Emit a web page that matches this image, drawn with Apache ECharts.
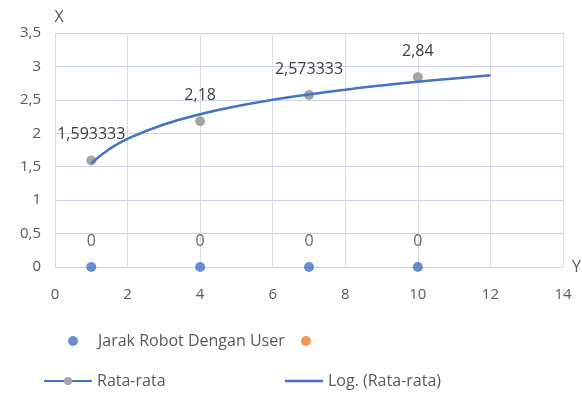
<!DOCTYPE html>
<html>
<head>
<meta charset="utf-8">
<script src="https://cdn.jsdelivr.net/npm/echarts@6/dist/echarts.min.js"></script>
<style>
html,body{margin:0;padding:0;background:#fff;}
#c{width:582px;height:394px;}
</style>
</head>
<body>
<div id="c"></div>
<script>
// Data
const xValues = [1, 4, 7, 10];
const jarakValues = [0, 0, 0, 0];
const rataValues = [1.593333, 2.18, 2.573333, 2.84];
const trendX = [1, 1.5, 2, 3, 4, 5, 6, 7, 8, 9, 10, 11, 12];
const trendValues = [1.55, 1.765, 1.918, 2.132, 2.285, 2.403, 2.50, 2.581, 2.652, 2.714, 2.77, 2.821, 2.867];
const xTicks = { min: 0, max: 14, interval: 2 };
const yTicks = { min: 0, max: 3.5, interval: 0.5 };

const fmt = v => String(v).replace('.', ',');
const FONT = 'Open Sans';
const txt = '#595959';
const lbl = '#404040';

const chart = echarts.init(document.getElementById('c'));
chart.setOption({
  animation: false,
  textStyle: { fontFamily: FONT },
  grid: { left: 55, right: 19, top: 33, bottom: 127, outerBoundsMode: 'none', containLabel: false },
  xAxis: {
    type: 'value', min: xTicks.min, max: xTicks.max, interval: xTicks.interval,
    name: 'Y', nameLocation: 'end', nameGap: 9,
    nameTextStyle: { color: txt, fontSize: 16, fontFamily: FONT },
    axisLine: { show: false },
    axisTick: { show: false },
    axisLabel: { color: txt, fontSize: 15, margin: 20, formatter: fmt },
    splitLine: { show: true, lineStyle: { color: '#d9dbe6', width: 1 } }
  },
  yAxis: {
    type: 'value', min: yTicks.min, max: yTicks.max, interval: yTicks.interval,
    name: 'X', nameLocation: 'end', nameGap: 8,
    nameTextStyle: { color: txt, fontSize: 16, fontFamily: FONT, padding: [0, 0, 0, 8] },
    axisLine: { show: false },
    axisTick: { show: false },
    axisLabel: { color: txt, fontSize: 15, margin: 14, formatter: fmt },
    splitLine: { show: true, lineStyle: { color: '#c9d3ea', width: 1 } }
  },
  legend: [
    { left: 63, top: 328, itemWidth: 40, itemHeight: 10, icon: 'circle',
      data: ['Jarak Robot Dengan User'], textStyle: { color: txt, fontSize: 16, fontFamily: FONT } },
    { left: 296, top: 328, itemWidth: 10, itemHeight: 10, icon: 'circle',
      data: [' '], textStyle: { color: txt, fontSize: 16, fontFamily: FONT } },
    { left: 38, top: 368, itemWidth: 48, itemHeight: 10,
      data: ['Rata-rata'], textStyle: { color: txt, fontSize: 16, fontFamily: FONT },
      lineStyle: { color: '#4472C4', width: 2, opacity: 1 } },
    { left: 280, top: 368, itemWidth: 38, itemHeight: 2.5, icon: 'rect',
      data: ['Log. (Rata-rata)'], textStyle: { color: txt, fontSize: 16, fontFamily: FONT } }
  ],
  series: [
    {
      name: 'Jarak Robot Dengan User', type: 'scatter',
      data: xValues.map((x, i) => [x, jarakValues[i]]),
      symbolSize: 10, itemStyle: { color: '#4472C4' }, z: 3,
      label: { show: true, position: 'top', distance: 13, color: lbl, fontSize: 16,
        formatter: p => fmt(p.value[1]) }
    },
    {
      name: ' ', type: 'scatter', data: [],
      symbolSize: 10, itemStyle: { color: '#ED7D31' }
    },
    {
      name: 'Rata-rata', type: 'line',
      data: xValues.map((x, i) => [x, rataValues[i]]),
      symbol: 'circle', symbolSize: 10, showSymbol: true,
      itemStyle: { color: '#A5A5A5' },
      lineStyle: { opacity: 0, width: 0 }, z: 2,
      label: { show: true, position: 'top', distance: 13, color: lbl, fontSize: 16,
        formatter: p => fmt(p.value[1]) }
    },
    {
      name: 'Log. (Rata-rata)', type: 'line',
      data: trendX.map((x, i) => [x, trendValues[i]]),
      smooth: true, showSymbol: false, symbol: 'none',
      itemStyle: { color: '#4472C4' },
      lineStyle: { color: '#4472C4', width: 2.5 }, z: 4
    }
  ]
});
</script>
</body>
</html>
